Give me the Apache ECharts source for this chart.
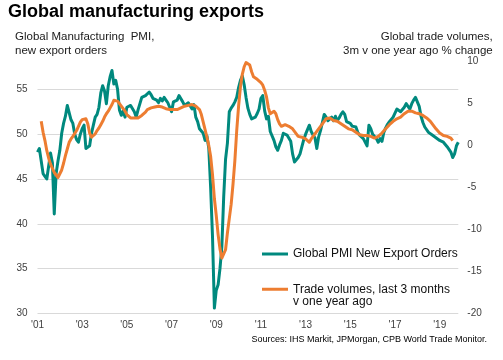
<!DOCTYPE html>
<html><head><meta charset="utf-8">
<script src="https://cdn.jsdelivr.net/npm/echarts@6/dist/echarts.min.js"></script>
<style>html,body{margin:0;padding:0;background:#fff}#c{width:503px;height:360px}</style>
</head><body><div id="c"></div>
<script>
const startYear = 2001;
const xTickLabels = ["'01", "'03", "'05", "'07", "'09", "'11", "'13", "'15", "'17", "'19"];
const leftTicks = [30, 35, 40, 45, 50, 55];
const rightTicks = [-20, -15, -10, -5, 0, 5, 10];

// Global PMI New Export Orders (left axis), monthly from Jan 2001
const pmi = [
  48.0, 48.4, 48.5, 45.6, 45.3, 45.0, 45.2, 47.9, 46.8, 41.1, 45.6, 47.0,
  48.2, 50.1, 51.2, 52.0, 53.2, 53.0, 51.6, 51.2, 50.0, 49.4, 49.1, 50.0,
  50.6, 51.0, 48.4, 48.6, 48.7, 50.1, 51.0, 51.9, 52.2, 53.0, 54.6, 55.4,
  54.8, 53.4, 55.4, 56.4, 57.1, 55.6, 56.0, 55.0, 52.7, 52.1, 52.6, 51.9,
  53.0, 53.1, 53.2, 53.0, 52.5, 51.9, 52.7, 53.4, 54.1, 54.0, 54.3, 54.5,
  54.7, 54.4, 54.0, 54.1, 53.8, 53.5, 54.0, 53.7, 54.1, 53.8, 53.5, 53.0,
  52.5, 53.6, 53.6, 53.8, 54.3, 54.2, 53.6, 53.2, 53.0, 53.5, 53.6, 52.8,
  53.3, 51.9, 51.4, 50.6, 50.4, 50.1, 49.3, 49.8, 48.4, 44.0, 38.5, 30.6,
  32.6, 33.2, 35.0, 37.4, 43.0, 47.2, 49.0, 52.5, 52.9, 53.2, 53.6, 54.1,
  55.2, 56.0, 56.5, 55.5, 54.1, 52.9, 52.2, 51.7, 51.5, 51.9, 52.3, 52.8,
  54.0, 54.3, 52.6, 51.7, 52.0, 50.3, 50.1, 49.3, 48.6, 48.2, 48.8, 49.3,
  50.1, 50.3, 49.9, 50.0, 49.2, 47.8, 46.9, 47.1, 47.4, 47.8, 48.6, 49.4,
  50.0, 50.2, 51.0, 50.3, 49.9, 49.6, 48.4, 49.7, 50.4, 51.3, 52.2, 51.9,
  51.5, 51.7, 51.9, 51.5, 52.0, 51.5, 51.8, 52.2, 52.5, 52.2, 51.4, 51.3,
  51.2, 50.9, 50.7, 50.8, 50.2, 49.9, 49.7, 49.5, 49.5, 48.7, 51.0, 50.6,
  50.0, 50.1, 49.5, 49.1, 49.5, 49.2, 50.2, 50.7, 51.1, 51.4, 51.5, 51.9,
  52.1, 52.8, 52.6, 52.5, 52.6, 53.0, 53.4, 53.6, 52.8, 53.4, 53.8, 54.1,
  53.9, 53.1, 52.0, 51.3, 50.8, 50.6, 50.2, 50.1, 49.9, 49.9, 49.6, 49.6,
  49.3, 49.1, 49.1, 48.9, 48.6, 48.3, 48.0, 47.4, 47.8, 48.7, 49.1
];

// Trade volumes, 3m v one year ago % change (right axis), monthly from Jan 2001
const trade = [
  null, null, 2.9, 1.6, 0.6, -0.6, -1.5, -2.2, -2.7, -3.2, -3.5, -3.8,
  -3.6, -2.9, -2.1, -1.2, -0.4, 0.4, 0.8, 1.1, 1.3, 1.8, 2.3, 2.8,
  3.1, 3.2, 3.2, 2.6, 1.5, 1.0, 1.2, 1.4, 1.8, 2.1, 2.5, 2.9,
  3.4, 3.8, 4.1, 4.5, 4.9, 5.4, 5.5, 5.3, 5.0, 4.7, 4.4, 4.1,
  3.7, 3.5, 3.3, 3.3, 3.3, 3.2, 3.3, 3.4, 3.6, 3.8, 4.0, 4.3,
  4.4, 4.5, 4.5, 4.6, 4.7, 4.7, 4.7, 4.6, 4.5, 4.4, 4.3, 4.3,
  4.3, 4.3, 4.3, 4.3, 4.4, 4.5, 4.6, 4.7, 4.8, 4.8, 4.9, 4.9,
  4.8, 4.7, 4.5, 4.3, 3.7, 2.8, 1.9, 1.0, 0.0, -1.3, -3.5, -6.3,
  -8.3, -10.6, -12.3, -13.4, -13.4, -12.4, -10.4, -8.7, -7.0, -4.6, -1.8, 1.8,
  4.7, 7.0, 8.5, 9.4, 9.9, 10.0, 9.6, 8.8, 8.2, 8.0, 7.9, 7.7,
  7.5, 7.2, 6.6, 5.8, 4.5, 3.8, 3.9, 4.1, 3.8, 3.1, 2.6, 2.3,
  2.5, 2.5, 2.4, 2.3, 2.2, 2.0, 1.7, 1.4, 1.1, 0.9, 1.0, 1.0,
  0.8, 0.6, 0.4, 0.8, 1.1, 1.3, 1.7, 1.9, 2.3, 2.6, 2.9, 3.2,
  3.3, 3.3, 3.1, 3.0, 2.9, 2.9, 2.8, 2.6, 2.4, 2.3, 2.2, 2.0,
  1.9, 1.9, 1.8, 1.6, 1.4, 1.3, 1.2, 1.2, 1.2, 1.2, 1.2, 1.1,
  1.0, 0.9, 0.9, 1.1, 1.3, 1.5, 1.7, 2.0, 2.2, 2.5, 2.7, 2.9,
  3.1, 3.2, 3.3, 3.4, 3.6, 3.8, 4.0, 4.1, 4.1, 4.1, 4.0, 3.9,
  3.8, 3.8, 3.7, 3.6, 3.5, 3.3, 3.1, 2.9, 2.6, 2.4, 2.0, 1.8,
  1.5, 1.3, 1.2, 1.1, 1.1, 1.1, 0.9, 0.6
];

const months = [];
for (let i = 0; i < pmi.length; i++) {
  const y = startYear + Math.floor(i / 12), m = i % 12 + 1;
  months.push(y + '-' + (m < 10 ? '0' : '') + m);
}

const FONT = '"Liberation Sans", Arial, Helvetica, sans-serif';
const TEAL = '#00897E';
const ORANGE = '#ED7D31';
const NAME_PMI = 'Global PMI New Export Orders';
const NAME_TRADE = 'Trade volumes, last 3 months\nv one year ago';

const chart = echarts.init(document.getElementById('c'), null, {renderer: 'canvas'});
chart.setOption({
  animation: false,
  backgroundColor: '#ffffff',
  textStyle: {fontFamily: FONT},
  grid: {left: 37.5, right: 44.7, top: 61.7, bottom: 46.5, containLabel: false, outerBoundsMode: 'none'},
  xAxis: {
    type: 'category', data: months, boundaryGap: false,
    axisLine: {show: false}, axisTick: {show: false}, splitLine: {show: false},
    axisLabel: {
      interval: (i) => i % 24 === 0,
      formatter: (v, i) => xTickLabels[Math.round(i / 24)] || '',
      color: '#404040', fontSize: 10, margin: 7, fontFamily: FONT
    }
  },
  yAxis: [
    {
      type: 'value', min: leftTicks[0], max: 58.08, interval: 5, position: 'left',
      axisLine: {show: false}, axisTick: {show: false},
      axisLabel: {color: '#404040', fontSize: 10, margin: 10, fontFamily: FONT, showMaxLabel: false,
        formatter: (v) => leftTicks.indexOf(v) >= 0 ? String(v) : ''},
      splitLine: {show: true, showMaxLine: false, lineStyle: {color: '#d9d9d9', width: 1}}
    },
    {
      type: 'value', min: rightTicks[0], max: rightTicks[rightTicks.length - 1], interval: 5, position: 'right',
      axisLine: {show: false}, axisTick: {show: false},
      axisLabel: {color: '#404040', fontSize: 10, margin: 9, fontFamily: FONT},
      splitLine: {show: false}
    }
  ],
  legend: [
    {data: [NAME_PMI], left: 262, top: 247, padding: 0, itemWidth: 26, itemHeight: 3, icon: 'rect',
      selectedMode: false, textStyle: {fontSize: 12, color: '#111', lineHeight: 14, fontFamily: FONT}},
    {data: [NAME_TRADE], left: 262, top: 270.5, padding: 0, itemWidth: 26, itemHeight: 3, icon: 'rect',
      selectedMode: false, formatter: (name) => '\n' + name,
      textStyle: {fontSize: 12, color: '#111', lineHeight: 12.5, fontFamily: FONT}}
  ],
  graphic: [
    {type: 'text', left: 8, top: 3, style: {text: 'Global manufacturing exports', font: 'bold 18px ' + FONT, fill: '#000'}},
    {type: 'text', x: 15, y: 30.5, style: {text: 'Global Manufacturing  PMI,\nnew export orders', fontSize: 11.5, fontFamily: FONT, lineHeight: 13.5, fill: '#1a1a1a', verticalAlign: 'top', align: 'left'}},
    {type: 'text', x: 492.7, y: 30.5, style: {text: 'Global trade volumes,\n3m v one year ago % change', fontSize: 11.5, fontFamily: FONT, lineHeight: 13.5, fill: '#1a1a1a', verticalAlign: 'top', align: 'right'}},
    {type: 'text', x: 487, y: 339.5, style: {text: 'Sources: IHS Markit, JPMorgan, CPB World Trade Monitor.', fontSize: 9, fontFamily: FONT, fill: '#000', verticalAlign: 'middle', align: 'right'}}
  ],
  series: [
    {name: NAME_PMI, type: 'line', yAxisIndex: 0, data: pmi, showSymbol: false, symbol: 'none',
      lineStyle: {color: TEAL, width: 3, join: 'round'}, itemStyle: {color: TEAL}},
    {name: NAME_TRADE, type: 'line', yAxisIndex: 1, data: trade, showSymbol: false, symbol: 'none',
      lineStyle: {color: ORANGE, width: 3, join: 'round'}, itemStyle: {color: ORANGE}}
  ]
});
</script></body></html>
